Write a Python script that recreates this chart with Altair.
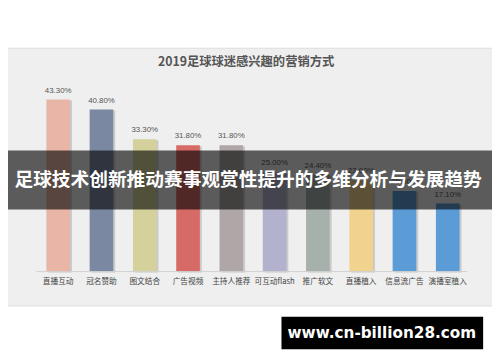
import altair as alt
import pandas as pd

categories = ["直播互动", "冠名赞助", "图文结合", "广告视频", "主持人推荐",
              "可互动flash", "推广软文", "直播植入", "信息流广告", "演播室植入"]
values = [43.3, 40.8, 33.3, 31.8, 31.8, 25.0, 24.4, 23.0, 20.3, 17.1]
labels = ["43.30%", "40.80%", "33.30%", "31.80%", "31.80%",
          "25.00%", "24.40%", "23.00%", "20.30%", "17.10%"]
colors = ["#e8b5a7", "#7b88a2", "#d4d19c", "#d66a64", "#afa6a7",
          "#b2b2ce", "#a7b1ab", "#f1d28e", "#5b9bd6", "#5b9bd6"]
title_text = "2019足球球迷感兴趣的营销方式"
banner_text = "足球技术创新推动赛事观赏性提升的多维分析与发展趋势"
watermark_text = "www.cn-billion28.com"

df = pd.DataFrame({"cat": categories, "val": values, "label": labels})

W, H = 492, 354
one = alt.Data(values=[{"a": 1}])

xs = alt.X("cat:N", sort=categories, axis=None,
           scale=alt.Scale(range=[29, 469], paddingInner=0.4545, paddingOuter=0.2273))
ys = alt.Y("val:Q", axis=None, scale=alt.Scale(domain=[0, 50], range=[265, 63]))
col = alt.Color("cat:N", sort=categories, legend=None,
                scale=alt.Scale(domain=categories, range=colors))

panel = alt.Chart(one).mark_rect(fill="#efefef", stroke="#dddddd", strokeWidth=1).encode(
    x=alt.value(-2), x2=alt.value(W + 2), y=alt.value(38), y2=alt.value(300))

title = alt.Chart(one).mark_text(text=title_text, fontSize=12.5, fontWeight="bold",
                                 color="#555555", font="Noto Sans CJK SC").encode(
    x=alt.value(242), y=alt.value(52))

shadow = alt.Chart(df).mark_bar(color="#888888", opacity=0.35, xOffset=2, yOffset=1).encode(
    x=xs, y=ys)
bars = alt.Chart(df).mark_bar().encode(x=xs, y=ys, color=col)

axis_line = alt.Chart(one).mark_rule(color="#d0d0d0", strokeWidth=1).encode(
    x=alt.value(29), x2=alt.value(467), y=alt.value(265))

vlabels = alt.Chart(df).mark_text(dy=-9, fontSize=8, color="#555555",
                                  font="Liberation Sans").encode(
    x=xs, y=ys, text="label:N")

clabels = alt.Chart(df).mark_text(fontSize=7.8, color="#444444",
                                  font="Noto Sans CJK SC").encode(
    x=xs, y=alt.value(276), text="cat:N")

banner = alt.Chart(one).mark_rect(fill="#000000", opacity=0.62).encode(
    x=alt.value(-10), x2=alt.value(W + 10), y=alt.value(142), y2=alt.value(202))
banner_txt = alt.Chart(one).mark_text(text=banner_text, fontSize=19, fontWeight="bold",
                                      color="white", font="Noto Sans CJK SC").encode(
    x=alt.value(244), y=alt.value(172))

wm_box = alt.Chart(one).mark_rect(fill="#000000").encode(
    x=alt.value(278), x2=alt.value(483), y=alt.value(311), y2=alt.value(344))
wm_txt = alt.Chart(one).mark_text(text=watermark_text, fontSize=15.5, fontWeight="bold",
                                  color="white", font="DejaVu Sans").encode(
    x=alt.value(380), y=alt.value(328))

chart = alt.layer(panel, title, shadow, bars, axis_line, vlabels, clabels,
                  banner, banner_txt, wm_box, wm_txt).properties(
    width=W, height=H, autosize=alt.AutoSizeParams(type="none"), padding=0,
    background="white"
).configure_view(stroke=None)

chart.save("out.html", embed_options={"renderer": "svg", "actions": False})
